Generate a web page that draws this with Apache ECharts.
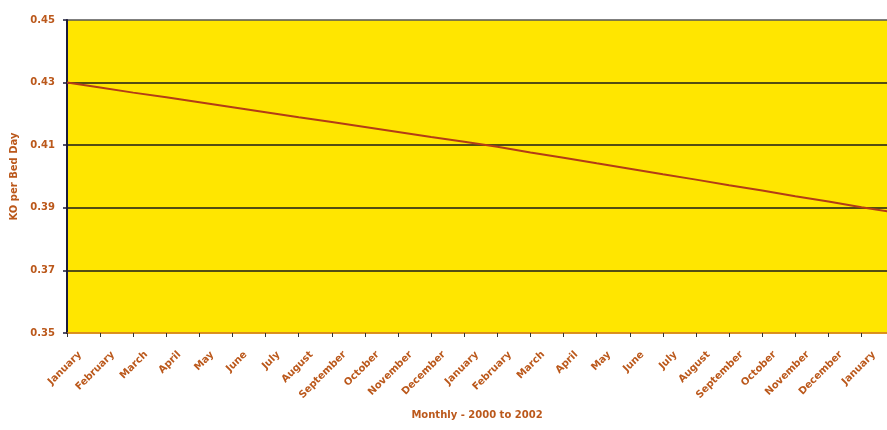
<!DOCTYPE html>
<html>
<head>
<meta charset="utf-8">
<script src="https://cdn.jsdelivr.net/npm/echarts@6/dist/echarts.min.js"></script>
<style>
  html, body { margin: 0; padding: 0; background: #fff; }
  #chart { width: 887px; height: 430px; }
</style>
</head>
<body>
<div id="chart"></div>
<script>
// month labels, Jan 2000 .. Feb 2002 (last one runs off the right edge)
var months = ['January', 'February', 'March', 'April', 'May', 'June', 'July', 'August',
  'September', 'October', 'November', 'December',
  'January', 'February', 'March', 'April', 'May', 'June', 'July', 'August',
  'September', 'October', 'November', 'December', 'January', 'February'];

// KO per bed day
var koPerBedDay = [0.4300, 0.4284, 0.4268, 0.4253, 0.4237, 0.4221, 0.4205, 0.4189,
  0.4174, 0.4158, 0.4142, 0.4126, 0.4111, 0.4095, 0.4077, 0.4060, 0.4042, 0.4025,
  0.4007, 0.3990, 0.3972, 0.3955, 0.3937, 0.3920, 0.3902, 0.3885];

var yTicks = [0.35, 0.37, 0.39, 0.41, 0.43, 0.45];

var brown = '#bb581b';
var font = 'DejaVu Sans';

var myChart = echarts.init(document.getElementById('chart'));

var points = [];
for (var i = 0; i < koPerBedDay.length; i++) {
  points.push([i, koPerBedDay[i]]);
}

myChart.setOption({
  animation: false,
  grid: [{
    // plot area
    left: 67,
    right: 0,
    top: 20,
    bottom: 97,
    outerBoundsMode: 'none',
    show: true,
    backgroundColor: '#ffe600',
    borderWidth: 0
  }, {
    // month labels sit a bit right of their ticks, like excel does
    left: 80,
    right: 13,
    top: 20,
    bottom: 97,
    outerBoundsMode: 'none',
    show: false
  }],
  xAxis: [{
    type: 'value',
    gridIndex: 0,
    min: 0,
    max: 24.77,
    interval: 1,
    name: 'Monthly - 2000 to 2002',
    nameLocation: 'middle',
    nameGap: 77,
    nameTextStyle: { color: brown, fontFamily: font, fontWeight: 'bold', fontSize: 10 },
    axisLine: { show: true, lineStyle: { color: '#d0741e', width: 1.5 } },
    axisTick: { show: true, length: 4, lineStyle: { color: '#333', width: 1 } },
    splitLine: { show: false },
    axisLabel: { show: false }
  }, {
    type: 'category',
    gridIndex: 1,
    boundaryGap: false,
    data: months.slice(0, 25),
    axisLine: { show: false },
    axisTick: { show: false },
    splitLine: { show: false },
    axisLabel: {
      interval: 0,
      rotate: 45,
      margin: 20,
      color: brown,
      fontFamily: font,
      fontWeight: 'bold',
      fontSize: 10
    }
  }],
  yAxis: [{
    type: 'value',
    gridIndex: 0,
    min: yTicks[0],
    max: yTicks[yTicks.length - 1],
    interval: 0.02,
    name: 'KO per Bed Day',
    nameLocation: 'middle',
    nameGap: 48,
    nameTextStyle: { color: brown, fontFamily: font, fontWeight: 'bold', fontSize: 10 },
    axisLine: { show: true, lineStyle: { color: '#1b1b3a', width: 2 } },
    axisTick: { show: true, length: 4, lineStyle: { color: '#1b1b3a', width: 1.5 } },
    axisLabel: {
      margin: 12,
      color: brown,
      fontFamily: font,
      fontWeight: 'bold',
      fontSize: 10,
      formatter: function (v) { return v.toFixed(2); }
    },
    splitLine: {
      show: true,
      lineStyle: { color: ['#ffe600', '#1a1a1a', '#1a1a1a', '#1a1a1a', '#1a1a1a', '#555'], width: 1.6 }
    }
  }, {
    type: 'value',
    gridIndex: 1,
    show: false
  }],
  series: [{
    type: 'line',
    xAxisIndex: 0,
    yAxisIndex: 0,
    data: points,
    symbol: 'none',
    lineStyle: { color: '#b33c16', width: 2 },
    clip: true
  }]
});
</script>
</body>
</html>
